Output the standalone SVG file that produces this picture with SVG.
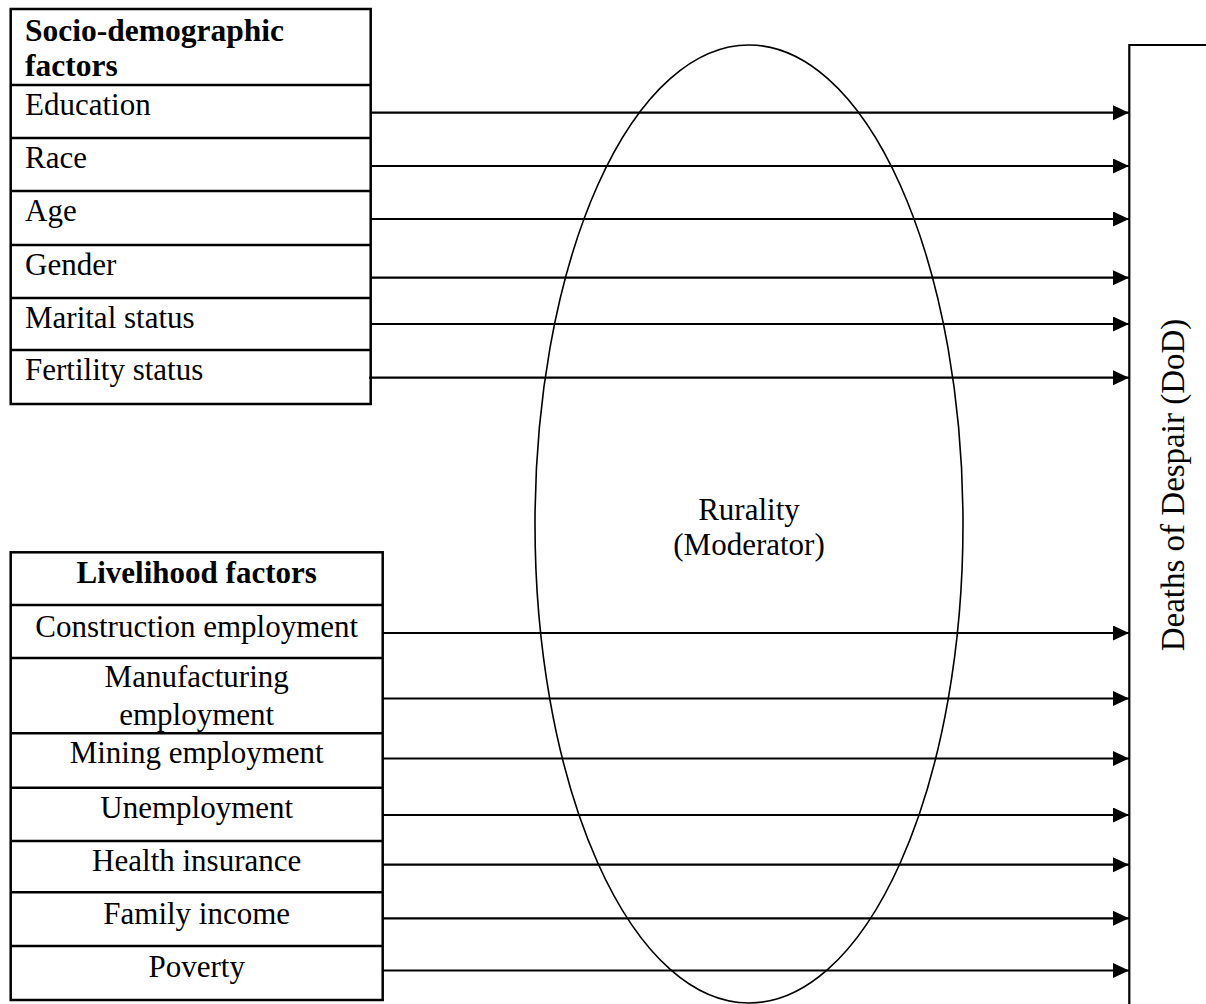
<svg xmlns="http://www.w3.org/2000/svg" width="1206" height="1004" viewBox="0 0 1206 1004">
<style>
.box{fill:#fff;stroke:#000;stroke-width:2.5}
.sep{stroke:#000;stroke-width:2.5}
.t{font-family:"Liberation Serif","Times New Roman",serif;font-size:31px;fill:#000}
.b{font-weight:bold}
.c{text-anchor:middle}
.arr{stroke:#000;stroke-width:2.2;fill:none;marker-end:url(#ah)}
.ell{fill:none;stroke:#000;stroke-width:1.6}
</style>
<defs>
<marker id="ah" markerUnits="userSpaceOnUse" markerWidth="17" markerHeight="16" refX="16" refY="7.5" orient="auto">
<path d="M0,0 L16,7.5 L0,15 Z" fill="#000"/>
</marker>
</defs>
<g id="moderator">
<ellipse class="ell" cx="749" cy="524" rx="214" ry="479"/>
<text class="t c" x="749" y="520">Rurality</text>
<text class="t c" x="749" y="555">(Moderator)</text>
</g>
<g id="socio-demographic">
<rect class="box" x="10.7" y="9" width="360" height="395"/>
<line class="sep" x1="10.7" y1="85" x2="370.7" y2="85"/>
<line class="sep" x1="10.7" y1="138" x2="370.7" y2="138"/>
<line class="sep" x1="10.7" y1="191" x2="370.7" y2="191"/>
<line class="sep" x1="10.7" y1="245" x2="370.7" y2="245"/>
<line class="sep" x1="10.7" y1="298" x2="370.7" y2="298"/>
<line class="sep" x1="10.7" y1="350" x2="370.7" y2="350"/>
<text class="t b" x="25" y="41" style="font-size:31.5px">Socio-demographic</text>
<text class="t b" x="25" y="76" style="font-size:31.5px">factors</text>
<text class="t" x="25" y="115">Education</text>
<text class="t" x="25" y="168">Race</text>
<text class="t" x="25" y="221">Age</text>
<text class="t" x="25" y="275">Gender</text>
<text class="t" x="25" y="328">Marital status</text>
<text class="t" x="25" y="380">Fertility status</text>
</g>
<g id="livelihood">
<rect class="box" x="10.7" y="552.3" width="372" height="447.7"/>
<line class="sep" x1="10.7" y1="605" x2="382.7" y2="605"/>
<line class="sep" x1="10.7" y1="658" x2="382.7" y2="658"/>
<line class="sep" x1="10.7" y1="733.3" x2="382.7" y2="733.3"/>
<line class="sep" x1="10.7" y1="787.7" x2="382.7" y2="787.7"/>
<line class="sep" x1="10.7" y1="841" x2="382.7" y2="841"/>
<line class="sep" x1="10.7" y1="892.3" x2="382.7" y2="892.3"/>
<line class="sep" x1="10.7" y1="946" x2="382.7" y2="946"/>
<text class="t b c" x="196.7" y="583">Livelihood factors</text>
<text class="t c" x="196.7" y="637">Construction employment</text>
<text class="t c" x="196.7" y="687">Manufacturing</text>
<text class="t c" x="196.7" y="725">employment</text>
<text class="t c" x="196.7" y="763">Mining employment</text>
<text class="t c" x="196.7" y="818">Unemployment</text>
<text class="t c" x="196.7" y="871">Health insurance</text>
<text class="t c" x="196.7" y="924">Family income</text>
<text class="t c" x="196.7" y="977">Poverty</text>
</g>
<g id="outcome">
<path d="M1206,45 H1129.3 V1004" fill="none" stroke="#000" stroke-width="2.2"/>
<text class="t c" style="font-size:33px" transform="translate(1184,485) rotate(-90)">Deaths of Despair (DoD)</text>
</g>
<g id="connectors">
<line class="arr" x1="371" y1="112.7" x2="1129" y2="112.7"/>
<line class="arr" x1="371" y1="166" x2="1129" y2="166"/>
<line class="arr" x1="371" y1="219" x2="1129" y2="219"/>
<line class="arr" x1="371" y1="277.7" x2="1129" y2="277.7"/>
<line class="arr" x1="371" y1="324" x2="1129" y2="324"/>
<line class="arr" x1="369" y1="377.7" x2="1129" y2="377.7"/>
<line class="arr" x1="383" y1="633" x2="1129" y2="633"/>
<line class="arr" x1="383" y1="698.5" x2="1129" y2="698.5"/>
<line class="arr" x1="383" y1="758.5" x2="1129" y2="758.5"/>
<line class="arr" x1="383" y1="815" x2="1129" y2="815"/>
<line class="arr" x1="383" y1="864.7" x2="1129" y2="864.7"/>
<line class="arr" x1="383" y1="918.3" x2="1129" y2="918.3"/>
<line class="arr" x1="383" y1="970.5" x2="1129" y2="970.5"/>
</g>
</svg>
